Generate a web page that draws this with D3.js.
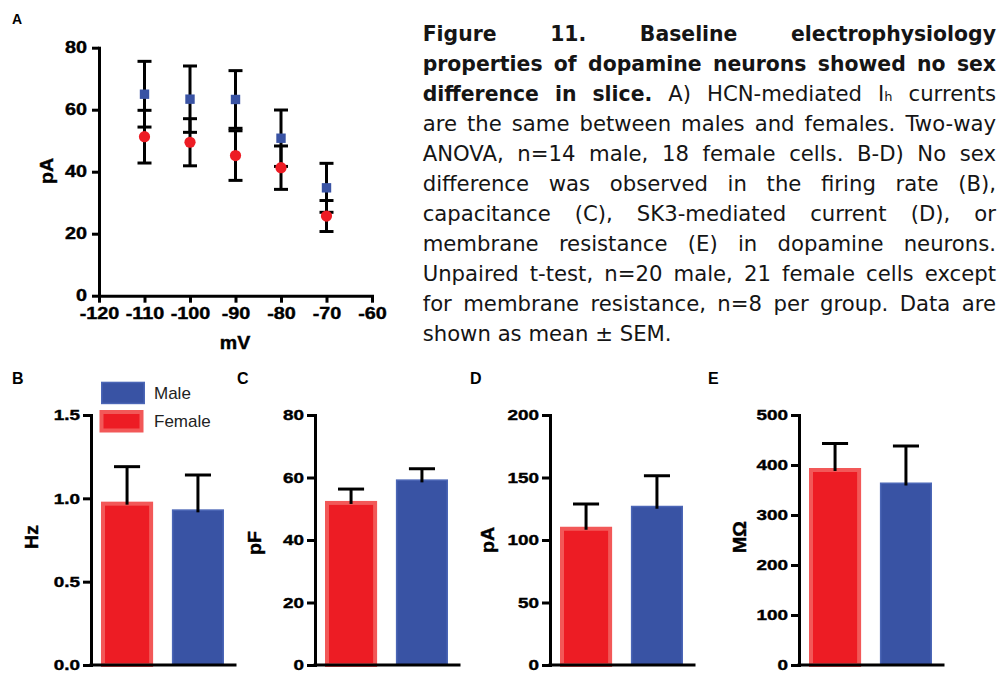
<!DOCTYPE html>
<html>
<head>
<meta charset="utf-8">
<script src="https://cdn.jsdelivr.net/npm/d3@7"></script>
<style>
  html, body { margin: 0; padding: 0; background: #fff; }
  svg { display: block; }
  .tick text { font-family: "Liberation Sans", Arial, sans-serif; font-weight: bold; fill: #000; stroke: #000; stroke-width: 0.4; }
</style>
</head>
<body>
<svg id="fig" width="1000" height="675"></svg>
<script>
// ---------- Data ----------
// Panel A: Ih current (pA) versus holding voltage (mV), mean and SEM
const voltages      = [-110, -100, -90, -80, -70];
const ihMale        = [65.0, 63.4, 63.3, 50.8, 34.8];
const ihMaleSem     = [10.6, 10.7, 9.3, 9.1, 7.9];
const ihFemale      = [51.3, 49.5, 45.2, 41.3, 25.7];
const ihFemaleSem   = [8.5, 7.6, 8.0, 7.0, 5.0];
const voltageTicks  = [-120, -110, -100, -90, -80, -70, -60];
const ihTicks       = [0, 20, 40, 60, 80];

// Panels B–E: group means and SEM
const groups            = ["Female", "Male"];
const firingRate        = [0.98, 0.934];
const firingRateSem     = [0.21, 0.206];
const capacitance       = [52.5, 59.4];
const capacitanceSem    = [3.8, 3.4];
const sk3Current        = [110.6, 127.4];
const sk3CurrentSem     = [18.2, 24.0];
const resistance        = [394, 365];
const resistanceSem     = [49, 73];
const firingTicks       = [0, 0.5, 1.0, 1.5];
const capacitanceTicks  = [0, 20, 40, 60, 80];
const sk3Ticks          = [0, 50, 100, 150, 200];
const resistanceTicks   = [0, 100, 200, 300, 400, 500];
const legendLabels      = ["Male", "Female"];

// Caption lines: each is a list of [text, bold] runs
const captionLines = [
  [["Figure 11. Baseline electrophysiology", true]],
  [["properties of dopamine neurons showed no sex", true]],
  [["difference in slice.", true], ["A) HCN-mediated I\u2095 currents", false]],
  [["are the same between males and females. Two-way", false]],
  [["ANOVA, n=14 male, 18 female cells. B-D) No sex", false]],
  [["difference was observed in the firing rate (B),", false]],
  [["capacitance (C), SK3-mediated current (D), or", false]],
  [["membrane resistance (E) in dopamine neurons.", false]],
  [["Unpaired t-test, n=20 male, 21 female cells except", false]],
  [["for membrane resistance, n=8 per group. Data are", false]],
  [["shown as mean \u00b1 SEM.", false]]
];

// ---------- Styles ----------
const RED = "#ed1c24", RED_EDGE = "#f25858";
const BLUE = "#3953a4", BLUE_EDGE = "#4b66b6";
const AXIS_W = 3;
const SANS = "'Liberation Sans', Arial, sans-serif";
const svg = d3.select("#fig");
const plainNumber = d => String(d);   // hyphen-minus for negatives

function styleAxis(g, sx, fontSize) {
  g.select(".domain").attr("stroke", "#000").attr("stroke-width", AXIS_W).attr("stroke-linecap", "square");
  g.selectAll(".tick line").attr("stroke", "#000").attr("stroke-width", AXIS_W);
  g.selectAll(".tick text").attr("font-size", fontSize).each(function () {
    const x = +(this.getAttribute("x") || 0);
    this.setAttribute("x", x / sx);
    this.setAttribute("transform", `scale(${sx},1)`);
  });
}

function boldLabel(x, y, text, size, rotate) {
  return svg.append("text")
    .attr("font-family", SANS).attr("font-weight", "bold").attr("font-size", size)
    .attr("stroke", "#000").attr("stroke-width", 0.4)
    .attr("text-anchor", "middle").attr("dominant-baseline", "central")
    .attr("transform", `translate(${x},${y})` + (rotate ? " rotate(-90)" : "") + " scale(1.12,1)")
    .text(text);
}

function panelLetter(x, y, letter, size) {
  svg.append("text").attr("x", x).attr("y", y)
    .attr("font-family", SANS).attr("font-weight", "bold").attr("font-size", size)
    .text(letter);
}

// ---------- Panel A ----------
const xA = d3.scaleLinear().domain([-120, -60]).range([99, 372]);
const yA = d3.scaleLinear().domain([0, 80]).range([295.7, 47.7]);

const gAx = svg.append("g").attr("transform", `translate(0,${yA(0)})`)
  .call(d3.axisBottom(xA).tickValues(voltageTicks).tickFormat(plainNumber)
    .tickSize(7).tickSizeOuter(0).tickPadding(5));
styleAxis(gAx, 1.2, 16.5);
const gAy = svg.append("g").attr("transform", `translate(${xA(-120)},0)`)
  .call(d3.axisLeft(yA).tickValues(ihTicks).tickFormat(plainNumber)
    .tickSize(7).tickSizeOuter(0).tickPadding(5));
styleAxis(gAy, 1.2, 16.5);

boldLabel(47, 171, "pA", 17.5, true);
boldLabel(235, 343, "mV", 17.5, false);
panelLetter(12, 24, "A", 14);

function errorBars(means, sems, capW) {
  const g = svg.append("g").attr("stroke", "#000").attr("stroke-width", 3);
  voltages.forEach((v, i) => {
    const x = xA(v), y1 = yA(means[i] - sems[i]), y2 = yA(means[i] + sems[i]);
    g.append("line").attr("x1", x).attr("x2", x).attr("y1", y1).attr("y2", y2);
    g.append("line").attr("x1", x - capW / 2).attr("x2", x + capW / 2).attr("y1", y1).attr("y2", y1);
    g.append("line").attr("x1", x - capW / 2).attr("x2", x + capW / 2).attr("y1", y2).attr("y2", y2);
  });
}
errorBars(ihMale, ihMaleSem, 14);
errorBars(ihFemale, ihFemaleSem, 14);

svg.append("g").selectAll("rect").data(voltages).join("rect")
  .attr("x", d => xA(d) - 4.7).attr("y", (d, i) => yA(ihMale[i]) - 4.7)
  .attr("width", 9.4).attr("height", 9.4).attr("fill", BLUE);
svg.append("g").selectAll("circle").data(voltages).join("circle")
  .attr("cx", d => xA(d)).attr("cy", (d, i) => yA(ihFemale[i]))
  .attr("r", 5.6).attr("fill", RED);

// ---------- Panels B–E ----------
const BAR_TOP = 415, BAR_BOTTOM = 665;

function barPanel(opts) {
  const { x0, means, sems, ticks, fmt, label, labelX, labelY, letter, letterX } = opts;
  const y = d3.scaleLinear().domain([0, d3.max(ticks)]).range([BAR_BOTTOM, BAR_TOP]);
  const x = d3.scaleBand().domain(groups).range([x0 + 10, x0 + 133]).paddingInner(0.265).paddingOuter(0);
  const bw = x.bandwidth();

  // Bars
  groups.forEach((gname, i) => {
    const female = gname === "Female";
    const edge = female ? 4 : 1.5;
    svg.append("rect")
      .attr("x", x(gname) + edge / 2).attr("y", y(means[i]) + edge / 2)
      .attr("width", bw - edge).attr("height", y(0) - y(means[i]) - edge / 2)
      .attr("fill", female ? RED : BLUE)
      .attr("stroke", female ? RED_EDGE : BLUE_EDGE).attr("stroke-width", edge);
  });

  // Upper error bars
  const eg = svg.append("g").attr("stroke", "#000").attr("stroke-width", 3);
  groups.forEach((gname, i) => {
    const cx = x(gname) + bw / 2;
    const ytop = y(means[i] + sems[i]);
    eg.append("line").attr("x1", cx).attr("x2", cx).attr("y1", y(means[i]) + 3).attr("y2", ytop);
    eg.append("line").attr("x1", cx - bw / 4).attr("x2", cx + bw / 4).attr("y1", ytop).attr("y2", ytop);
  });

  // Axes
  const gy = svg.append("g").attr("transform", `translate(${x0},0)`)
    .call(d3.axisLeft(y).tickValues(ticks).tickFormat(fmt).tickSize(8).tickSizeOuter(0).tickPadding(3));
  styleAxis(gy, 1.22, 15.5);
  svg.append("line").attr("x1", x0).attr("x2", x0 + 144).attr("y1", BAR_BOTTOM).attr("y2", BAR_BOTTOM)
    .attr("stroke", "#000").attr("stroke-width", AXIS_W).attr("stroke-linecap", "square");

  boldLabel(labelX, labelY, label, 17.5, true);
  panelLetter(letterX, 384, letter, 16);
}

barPanel({ x0: 91, means: firingRate, sems: firingRateSem, ticks: firingTicks, fmt: d3.format(".1f"),
  label: "Hz", labelX: 32, labelY: 537, letter: "B", letterX: 12 });
barPanel({ x0: 315, means: capacitance, sems: capacitanceSem, ticks: capacitanceTicks, fmt: d3.format("d"),
  label: "pF", labelX: 255, labelY: 543, letter: "C", letterX: 237 });
barPanel({ x0: 550, means: sk3Current, sems: sk3CurrentSem, ticks: sk3Ticks, fmt: d3.format("d"),
  label: "pA", labelX: 488, labelY: 540, letter: "D", letterX: 470 });
barPanel({ x0: 799, means: resistance, sems: resistanceSem, ticks: resistanceTicks, fmt: d3.format("d"),
  label: "M\u03a9", labelX: 740, labelY: 537, letter: "E", letterX: 708 });

// Legend (panel B)
const legend = svg.append("g");
[[BLUE, BLUE_EDGE, 1.5, 381.7], [RED, RED_EDGE, 4, 410]].forEach(([fill, edge, w, top], i) => {
  legend.append("rect").attr("x", 101 + w / 2 - (i ? 1.5 : 0)).attr("y", top + w / 2)
    .attr("width", 44 - w).attr("height", 22.5 - w)
    .attr("fill", fill).attr("stroke", edge).attr("stroke-width", w);
  legend.append("text").attr("x", 154).attr("y", top + 11.5)
    .attr("dominant-baseline", "central")
    .attr("font-family", SANS).attr("font-size", 17).attr("fill", "#222")
    .text(legendLabels[i]);
});

// ---------- Caption (justified) ----------
const CAP_X0 = 422.7, CAP_X1 = 996, CAP_Y0 = 40.5, CAP_DY = 30;
const CAP_FS = 21.2, CAP_FS_BOLD = 20.4, SPACE_EM = 0.318;
const cap = svg.append("g").attr("font-family", "'DejaVu Sans', Verdana, sans-serif")
  .attr("font-size", CAP_FS).attr("fill", "#151515");

captionLines.forEach((runs, li) => {
  const yb = CAP_Y0 + li * CAP_DY;
  const words = [];
  runs.forEach(([txt, bold]) => txt.split(" ").forEach(w => words.push({ w, bold })));
  const nodes = words.map(({ w, bold }) => {
    const t = cap.append("text").attr("y", yb)
      .attr("font-weight", bold ? "bold" : "normal")
      .attr("font-size", bold ? CAP_FS_BOLD : CAP_FS);
    if (w.includes("\u2095")) {
      t.append("tspan").text(w.replace("\u2095", ""));
      t.append("tspan").attr("font-size", 13).text("h");
    } else {
      t.text(w);
    }
    return t;
  });
  const widths = nodes.map(n => n.node().getComputedTextLength());
  const total = d3.sum(widths);
  const last = li === captionLines.length - 1;
  const gap = last ? CAP_FS * SPACE_EM : (CAP_X1 - CAP_X0 - total) / (nodes.length - 1);
  let x = CAP_X0;
  nodes.forEach((n, i) => { n.attr("x", x); x += widths[i] + gap; });
});
</script>
</body>
</html>
